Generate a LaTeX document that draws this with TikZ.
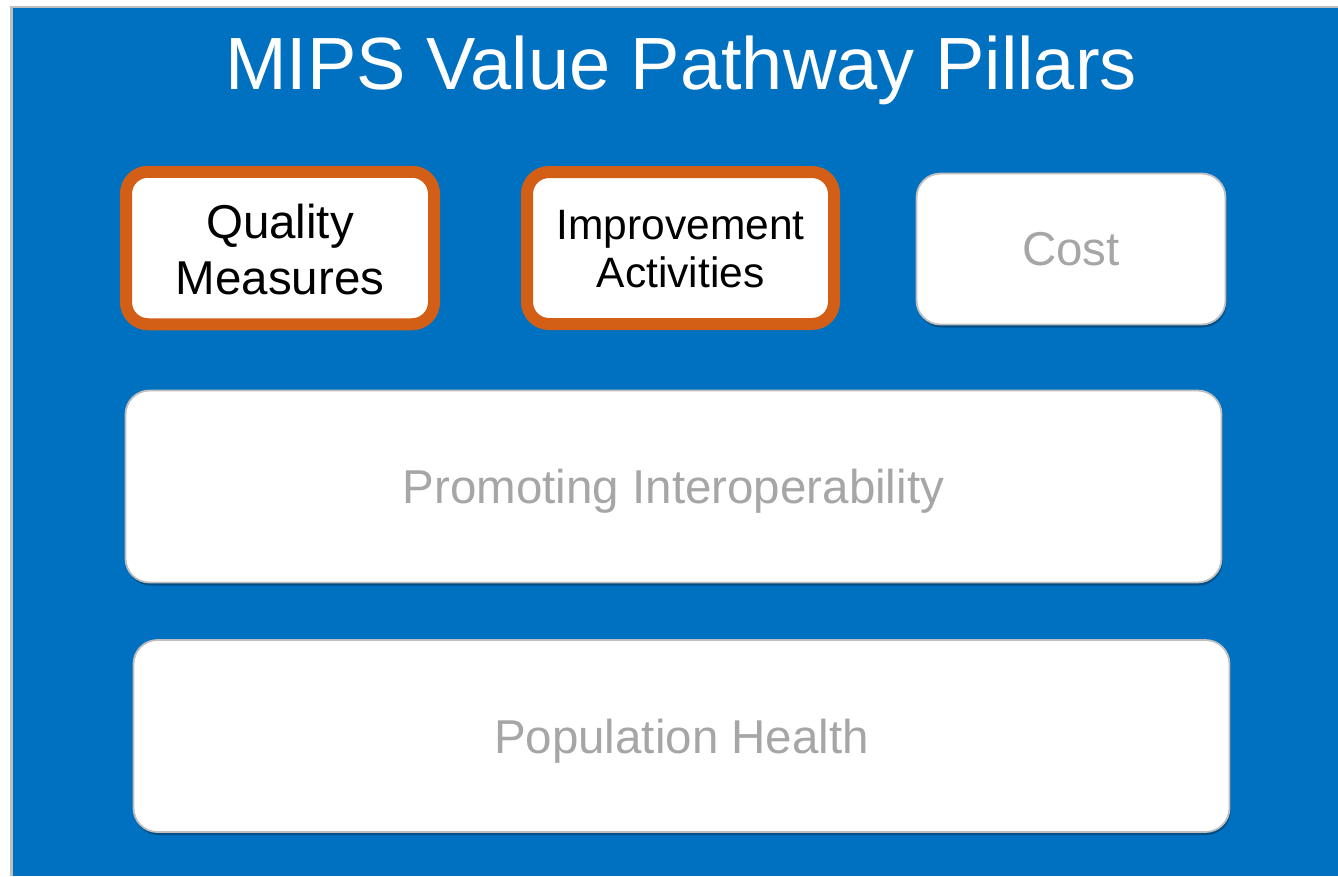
\documentclass[tikz,border=0pt]{standalone}
\usepackage{fontspec}
\setmainfont{Liberation Sans}
\usetikzlibrary{shadows}
\definecolor{bgblue}{HTML}{0070C0}
\definecolor{hiorange}{HTML}{D35F16}
\definecolor{boxgray}{HTML}{BFBFBF}
\definecolor{txtgray}{HTML}{A6A6A6}
\tikzset{
  pillar/.style={fill=white, draw=boxgray, line width=1.8pt, rounded corners=24pt,
    align=center, inner sep=0pt, text=txtgray, text depth=0pt,
    font=\fontsize{47.5}{56}\selectfont,
    drop shadow={shadow xshift=1pt, shadow yshift=-3pt, opacity=0.3, fill=black}},
  chosen/.style={fill=white, draw=hiorange, line width=12pt, rounded corners=22pt,
    inner sep=0pt,
    drop shadow={shadow xshift=2pt, shadow yshift=-3pt, opacity=0.3, fill=black}},
  chosentext/.style={align=center, inner sep=0pt, text=black, anchor=base},
}
\begin{document}
\begin{tikzpicture}[x=1pt,y=-1pt]
\useasboundingbox (0,0) rectangle (1338,876);
\fill[white] (0,0) rectangle (1338,876);
\fill[boxgray] (10,5.5) rectangle (1338,876);
\fill[bgblue] (12.5,7.5) rectangle (1338,876);
\node[text=white, font=\fontsize{74}{80}\selectfont, anchor=base] (title) at (681,89) {MIPS Value Pathway Pillars};
\node[chosen, minimum width=308pt, minimum height=152.5pt] (qm) at (280,248) {};
\node[chosentext, font=\fontsize{47.5}{56}\selectfont] (qmtext) at (280,294) {Quality\\Measures};
\node[chosen, minimum width=307pt, minimum height=152pt] (ia) at (680.5,248) {};
\node[chosentext, font=\fontsize{42.5}{48}\selectfont] (iatext) at (680.5,287) {Improvement\\Activities};
\node[pillar, minimum width=309pt, minimum height=151pt] (cost) at (1071,249) {Cost};
\node[pillar, minimum width=1096pt, minimum height=192pt] (pi) at (673.5,486.5) {Promoting Interoperability};
\node[pillar, minimum width=1096pt, minimum height=192pt] (ph) at (681.5,736) {Population Health};
\end{tikzpicture}
\end{document}
